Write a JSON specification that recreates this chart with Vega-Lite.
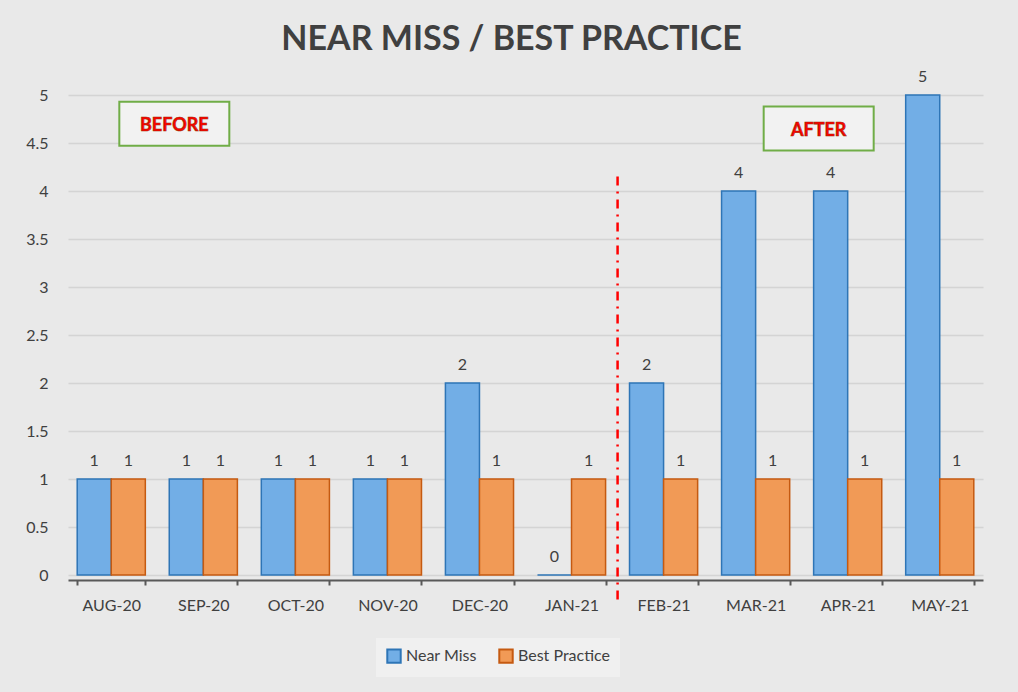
{
  "$schema": "https://vega.github.io/schema/vega-lite/v6.json",
  "width": 915,
  "height": 480,
  "autosize": {"type": "none"},
  "padding": {"left": 68, "top": 95, "right": 35, "bottom": 117},
  "background": "#e9e9e9",
  "title": {
    "text": "NEAR MISS / BEST PRACTICE",
    "fontSize": 34,
    "fontWeight": "bold",
    "font": "Lato",
    "color": "#404040",
    "anchor": "middle",
    "offset": 12,
    "dx": -14
  },
  "config": {
    "view": {"stroke": null},
    "font": "Lato"
  },
  "datasets": {
    "counts": [
      {"month": "AUG-20", "series": "Near Miss", "value": 1},
      {"month": "AUG-20", "series": "Best Practice", "value": 1},
      {"month": "SEP-20", "series": "Near Miss", "value": 1},
      {"month": "SEP-20", "series": "Best Practice", "value": 1},
      {"month": "OCT-20", "series": "Near Miss", "value": 1},
      {"month": "OCT-20", "series": "Best Practice", "value": 1},
      {"month": "NOV-20", "series": "Near Miss", "value": 1},
      {"month": "NOV-20", "series": "Best Practice", "value": 1},
      {"month": "DEC-20", "series": "Near Miss", "value": 2},
      {"month": "DEC-20", "series": "Best Practice", "value": 1},
      {"month": "JAN-21", "series": "Near Miss", "value": 0},
      {"month": "JAN-21", "series": "Best Practice", "value": 1},
      {"month": "FEB-21", "series": "Near Miss", "value": 2},
      {"month": "FEB-21", "series": "Best Practice", "value": 1},
      {"month": "MAR-21", "series": "Near Miss", "value": 4},
      {"month": "MAR-21", "series": "Best Practice", "value": 1},
      {"month": "APR-21", "series": "Near Miss", "value": 4},
      {"month": "APR-21", "series": "Best Practice", "value": 1},
      {"month": "MAY-21", "series": "Near Miss", "value": 5},
      {"month": "MAY-21", "series": "Best Practice", "value": 1}
    ],
    "notes": [
      {"month": "SEP-20", "label": "BEFORE", "pos": 4.7},
      {"month": "APR-21", "label": "AFTER", "pos": 4.65}
    ],
    "divider": [
      {"month": "FEB-21", "top": 4.15, "bottom": -0.26}
    ]
  },
  "encoding": {
    "x": {
      "field": "month",
      "type": "nominal",
      "sort": null,
      "scale": {
        "domain": ["AUG-20", "SEP-20", "OCT-20", "NOV-20", "DEC-20", "JAN-21", "FEB-21", "MAR-21", "APR-21", "MAY-21"],
        "paddingInner": 0.26,
        "paddingOuter": 0.1
      },
      "axis": {
        "title": null,
        "labelAngle": 0,
        "labelFontSize": 16,
        "labelColor": "#404040",
        "labelPadding": 12,
        "domainColor": "#595959",
        "domainWidth": 2,
        "tickColor": "#595959",
        "tickWidth": 2,
        "tickSize": 5,
        "tickBand": "extent",
        "offset": 5
      }
    }
  },
  "layer": [
    {
      "data": {"name": "counts"},
      "mark": {"type": "bar", "strokeWidth": 1.5},
      "encoding": {
        "xOffset": {"field": "series", "type": "nominal", "sort": ["Near Miss", "Best Practice"]},
        "y": {
          "field": "value",
          "type": "quantitative",
          "scale": {"domain": [0, 5], "nice": false},
          "axis": {
            "title": null,
            "values": [0, 0.5, 1, 1.5, 2, 2.5, 3, 3.5, 4, 4.5, 5],
            "format": "~g",
            "labelFontSize": 16,
            "labelColor": "#404040",
            "labelPadding": 20,
            "ticks": false,
            "domain": false,
            "gridColor": "#d4d4d4",
            "gridWidth": 1.5
          }
        },
        "fill": {
          "field": "series",
          "type": "nominal",
          "sort": ["Near Miss", "Best Practice"],
          "scale": {"domain": ["Near Miss", "Best Practice"], "range": ["#72aee6", "#f19a56"]},
          "legend": {
            "title": null,
            "orient": "none",
            "direction": "horizontal",
            "legendX": 308,
            "legendY": 543,
            "symbolType": "square",
            "symbolSize": 180,
            "symbolStrokeWidth": 2,
            "labelFontSize": 16,
            "labelColor": "#404040",
            "columnPadding": 18,
            "padding": 10,
            "fillColor": "#f0f0f0"
          }
        },
        "stroke": {
          "field": "series",
          "type": "nominal",
          "sort": ["Near Miss", "Best Practice"],
          "scale": {"domain": ["Near Miss", "Best Practice"], "range": ["#2e75b6", "#c55a11"]}
        }
      }
    },
    {
      "data": {"name": "counts"},
      "mark": {"type": "text", "baseline": "bottom", "dy": -10, "fontSize": 16, "color": "#404040"},
      "encoding": {
        "xOffset": {"field": "series", "type": "nominal", "sort": ["Near Miss", "Best Practice"]},
        "y": {"field": "value", "type": "quantitative"},
        "text": {"field": "value", "type": "quantitative"}
      }
    },
    {
      "data": {"name": "divider"},
      "mark": {"type": "rule", "color": "#ff0000", "strokeWidth": 2.5, "strokeDash": [9, 6, 2, 6], "xOffset": -46},
      "encoding": {
        "y": {"field": "top", "type": "quantitative"},
        "y2": {"field": "bottom"}
      }
    },
    {
      "data": {"name": "notes"},
      "mark": {
        "type": "point",
        "shape": "M-1,-0.4H1V0.4H-1Z",
        "size": 12100,
        "filled": true,
        "fill": "#f2f2f2",
        "stroke": "#70ad47",
        "strokeWidth": 2,
        "opacity": 1,
        "xOffset": -29
      },
      "encoding": {
        "y": {"field": "pos", "type": "quantitative"}
      }
    },
    {
      "data": {"name": "notes"},
      "mark": {
        "type": "text",
        "fontSize": 18,
        "fontWeight": "bold",
        "color": "#ff0000",
        "stroke": "#9c2a00",
        "strokeWidth": 0.6,
        "xOffset": -29,
        "yOffset": 2
      },
      "encoding": {
        "y": {"field": "pos", "type": "quantitative"},
        "text": {"field": "label", "type": "nominal"}
      }
    }
  ]
}
